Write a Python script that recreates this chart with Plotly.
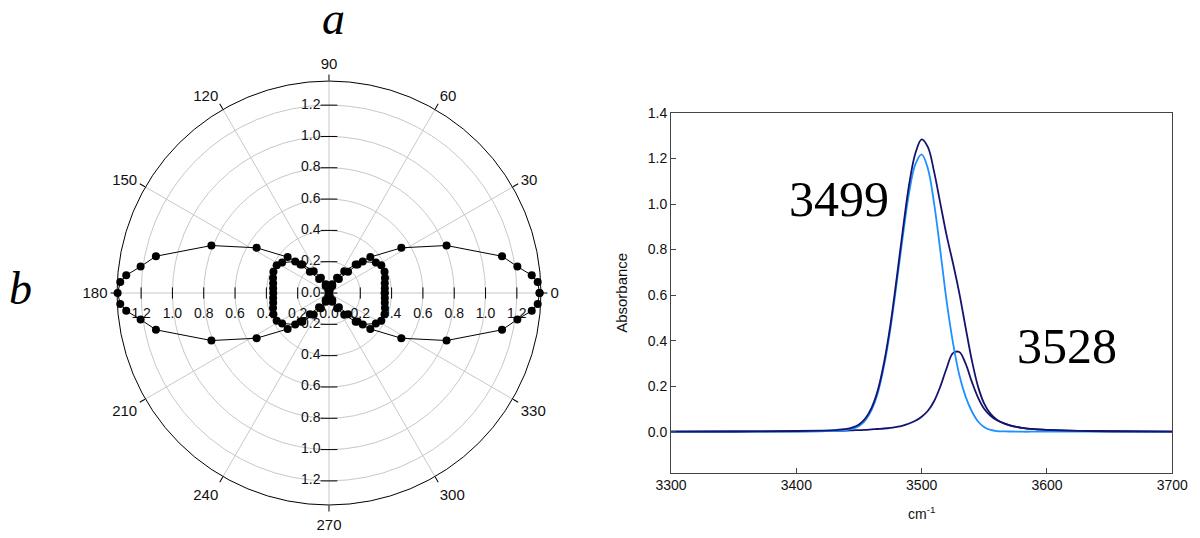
import plotly.graph_objects as go

# ---------------- polar data (angle in degrees, absorbance) ----------------
band3499_theta = [0, 3, 5, 8, 12, 22, 32, 41, 47, 55, 62, 70, 80, 90,
                  100, 110, 118, 125, 133, 139, 148, 158, 168, 172, 175, 177, 180,
                  183, 185, 188, 192, 202, 212, 221, 227, 235, 242, 250, 260, 270,
                  280, 290, 298, 305, 313, 319, 328, 338, 348, 352, 355, 357, 360]
band3499_r = [1.345, 1.335, 1.30, 1.215, 1.13, 0.81, 0.545, 0.35, 0.25, 0.17, 0.11, 0.06, 0.02, 0.0,
              0.02, 0.06, 0.11, 0.17, 0.25, 0.35, 0.545, 0.81, 1.13, 1.215, 1.30, 1.335, 1.35,
              1.335, 1.30, 1.215, 1.13, 0.81, 0.545, 0.35, 0.25, 0.17, 0.11, 0.06, 0.02, 0.0,
              0.02, 0.06, 0.11, 0.17, 0.25, 0.35, 0.545, 0.81, 1.13, 1.215, 1.30, 1.335, 1.345]

band3528_theta = [0, 5, 10, 15, 21, 28, 33, 43, 45, 48, 55, 65, 80, 90,
                  100, 115, 125, 132, 135, 137, 147, 152, 159, 165, 170, 175, 180,
                  185, 190, 195, 201, 208, 213, 223, 225, 228, 235, 245, 260, 270,
                  280, 295, 305, 312, 315, 317, 327, 332, 339, 345, 350, 355, 360]
band3528_r = [0.356, 0.358, 0.362, 0.37, 0.38, 0.378, 0.357, 0.295, 0.258, 0.182, 0.11, 0.05, 0.015, 0.0,
              0.015, 0.05, 0.11, 0.182, 0.258, 0.295, 0.357, 0.378, 0.38, 0.37, 0.362, 0.358, 0.356,
              0.358, 0.362, 0.37, 0.38, 0.378, 0.357, 0.295, 0.258, 0.182, 0.11, 0.05, 0.015, 0.0,
              0.015, 0.05, 0.11, 0.182, 0.258, 0.295, 0.357, 0.378, 0.38, 0.37, 0.362, 0.358, 0.356]

angular_ticks = [0, 30, 60, 90, 120, 150, 180, 210, 240, 270, 300, 330]
radial_ticks = [0.0, 0.2, 0.4, 0.6, 0.8, 1.0, 1.2]

# ---------------- spectrum data ----------------
wavenumber = [3300, 3350, 3400, 3420, 3430, 3440, 3445, 3450, 3455, 3460, 3465, 3470, 3475,
              3480, 3485, 3490, 3495, 3500, 3505, 3510, 3515, 3520, 3525, 3530, 3535, 3540,
              3545, 3550, 3555, 3560, 3570, 3580, 3590, 3600, 3625, 3650, 3700]
abs_3499 = [0.0, 0.0, 0.001, 0.002, 0.003, 0.007, 0.013, 0.025, 0.05, 0.095, 0.17, 0.29, 0.45,
            0.65, 0.86, 1.05, 1.175, 1.218, 1.155, 1.0, 0.79, 0.57, 0.39, 0.25, 0.155, 0.09,
            0.045, 0.02, 0.008, 0.003, 0.001, 0.0, 0.0, 0.0, 0.0, 0.0, 0.0]
abs_3528 = [0.0, 0.001, 0.002, 0.003, 0.004, 0.005, 0.006, 0.007, 0.008, 0.010, 0.012, 0.014, 0.017,
            0.021, 0.027, 0.036, 0.048, 0.066, 0.092, 0.135, 0.2, 0.28, 0.345, 0.35, 0.30, 0.22,
            0.15, 0.10, 0.07, 0.05, 0.028, 0.017, 0.011, 0.008, 0.004, 0.002, 0.0]
abs_total = [0.0, 0.001, 0.003, 0.005, 0.007, 0.012, 0.019, 0.032, 0.058, 0.105, 0.182, 0.304, 0.467,
             0.671, 0.887, 1.086, 1.223, 1.284, 1.25, 1.14, 1.0, 0.86, 0.74, 0.61, 0.46, 0.315,
             0.198, 0.122, 0.078, 0.053, 0.029, 0.017, 0.011, 0.008, 0.004, 0.002, 0.0]

x_ticks = [3300, 3400, 3500, 3600, 3700]
y_ticks = [0.0, 0.2, 0.4, 0.6, 0.8, 1.0, 1.2, 1.4]

FONT = "Liberation Sans, Arial, sans-serif"
SERIF = "Liberation Serif, Times New Roman, serif"
GRID = "#c8c8c8"
W, H = 1200, 538

fig = go.Figure()


def fmt(v):
    return f"{v:.1f}"


up = radial_ticks
down = radial_ticks[1:]

# radial tick labels along the four axis directions
for vals, ang, pos, tick_sym in [(up, 90, "middle left", "line-ew"),
                                 (down, 270, "middle left", "line-ew"),
                                 (up, 0, "bottom center", None),
                                 (down, 180, "bottom center", None)]:
    if tick_sym:
        marker = dict(symbol=tick_sym, size=12, color="black", line=dict(width=1, color="black"))
    else:
        marker = dict(symbol="line-ns", size=22, color="rgba(0,0,0,0)", line=dict(width=0))
    fig.add_trace(go.Scatterpolar(r=vals, theta=[ang] * len(vals), mode="markers+text",
                                  text=[fmt(v) for v in vals], textposition=pos,
                                  marker=marker,
                                  textfont=dict(size=14, family=FONT, color="#111"),
                                  hoverinfo="skip", showlegend=False))

# horizontal-axis tick marks
fig.add_trace(go.Scatterpolar(r=up + down, theta=[0] * len(up) + [180] * len(down), mode="markers",
                              marker=dict(symbol="line-ns", size=8, color="black",
                                          line=dict(width=1, color="black")),
                              hoverinfo="skip", showlegend=False))

# data lobes
for th, rr in [(band3499_theta, band3499_r), (band3528_theta, band3528_r)]:
    fig.add_trace(go.Scatterpolar(r=rr, theta=th, mode="lines+markers",
                                  line=dict(color="black", width=1),
                                  marker=dict(color="black", size=8),
                                  showlegend=False))

# spectrum
fig.add_trace(go.Scatter(x=wavenumber, y=abs_3528, mode="lines",
                         line=dict(color="#141470", width=1.8, shape="spline"),
                         xaxis="x", yaxis="y", showlegend=False))
fig.add_trace(go.Scatter(x=wavenumber, y=abs_3499, mode="lines",
                         line=dict(color="#1e90ff", width=1.8, shape="spline"),
                         xaxis="x", yaxis="y", showlegend=False))
fig.add_trace(go.Scatter(x=wavenumber, y=abs_total, mode="lines",
                         line=dict(color="#141470", width=1.8, shape="spline"),
                         xaxis="x", yaxis="y", showlegend=False))

fig.update_layout(
    width=W, height=H,
    margin=dict(l=0, r=0, t=0, b=0, autoexpand=False),
    paper_bgcolor="white", plot_bgcolor="white",
    font=dict(family=FONT, size=14, color="#111"),
    polar=dict(
        domain=dict(x=[0.0975, 0.4508], y=[0.0613, 0.8494]),
        bgcolor="white",
        radialaxis=dict(range=[0, 1.354], tickvals=radial_ticks[1:], showticklabels=False,
                        ticks="", showline=False, gridcolor=GRID, gridwidth=1),
        angularaxis=dict(direction="counterclockwise", rotation=0,
                         tickmode="array", tickvals=angular_ticks,
                         ticktext=[str(a) for a in angular_ticks],
                         ticks="outside", ticklen=6, tickcolor="black",
                         showline=True, linecolor="black", linewidth=1,
                         gridcolor=GRID, gridwidth=1,
                         tickfont=dict(size=15, family=FONT, color="#111")),
    ),
    xaxis=dict(domain=[0.5592, 0.9769], range=[3300, 3700], tickvals=x_ticks,
               ticks="inside", ticklen=5, tickcolor="#444", showline=True, linecolor="#444",
               linewidth=1, mirror=True, showgrid=False, zeroline=False,
               tickfont=dict(size=14, family=FONT, color="#111"),
               title=dict(text="cm<sup>-1</sup>", font=dict(size=14, family=FONT), standoff=16),
               anchor="y"),
    yaxis=dict(domain=[0.1214, 0.790], range=[-0.18, 1.4], tickvals=y_ticks,
               tickformat=".1f", ticks="inside", ticklen=5, tickcolor="#444", showline=True,
               linecolor="#444", linewidth=1, mirror=True, showgrid=False, zeroline=False,
               tickfont=dict(size=14, family=FONT, color="#111"),
               title=dict(text="Absorbance", font=dict(size=15, family=FONT), standoff=16),
               anchor="x"),
    annotations=[
        dict(text="<i>a</i>", x=333 / W, y=1 - 18 / H, xref="paper", yref="paper",
             xanchor="center", yanchor="middle", showarrow=False,
             font=dict(size=46, family=SERIF, color="black")),
        dict(text="<i>b</i>", x=20 / W, y=1 - 288 / H, xref="paper", yref="paper",
             xanchor="center", yanchor="middle", showarrow=False,
             font=dict(size=46, family=SERIF, color="black")),
        dict(text="3499", x=3434, y=1.02, xref="x", yref="y", showarrow=False,
             xanchor="center", yanchor="middle",
             font=dict(size=50, family=SERIF, color="black")),
        dict(text="3528", x=3616, y=0.377, xref="x", yref="y", showarrow=False,
             xanchor="center", yanchor="middle",
             font=dict(size=50, family=SERIF, color="black")),
    ],
)

fig.write_html("out.html", config={"displayModeBar": False},
               post_script="document.body.style.margin='0px';")
